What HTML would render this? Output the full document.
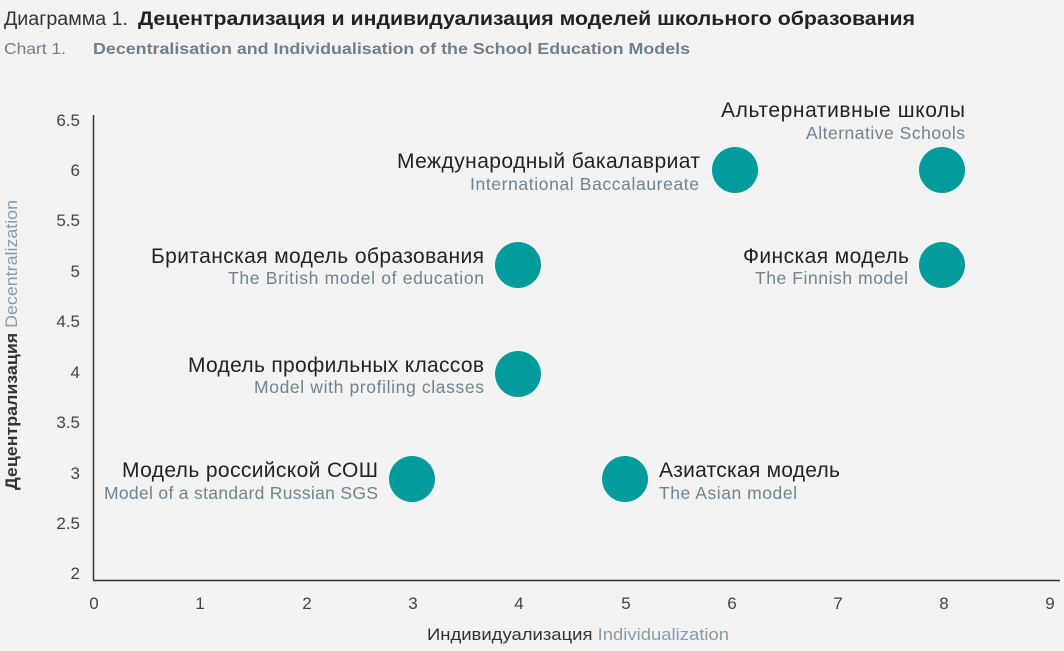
<!DOCTYPE html>
<html><head><meta charset="utf-8"><style>
body{margin:0;background:#f3f3f3;width:1064px;height:646px;overflow:hidden;font-family:"Liberation Sans","DejaVu Sans",sans-serif}
</style></head><body>
<svg width="1064" height="646" xmlns="http://www.w3.org/2000/svg" font-family="Liberation Sans, DejaVu Sans, sans-serif">
<rect width="1064" height="646" fill="#f3f3f3"/>
<text x="4" y="25" font-size="19" fill="#333" textLength="124" lengthAdjust="spacingAndGlyphs">Диаграмма 1.</text>
<text x="138" y="25" font-size="19" font-weight="bold" fill="#222" textLength="777" lengthAdjust="spacingAndGlyphs">Децентрализация и индивидуализация моделей школьного образования</text>
<text x="4" y="54" font-size="16" fill="#6f7f8c" textLength="62" lengthAdjust="spacingAndGlyphs">Chart 1.</text>
<text x="93" y="54" font-size="16" font-weight="bold" fill="#6f7f8c" textLength="597" lengthAdjust="spacingAndGlyphs">Decentralisation and Individualisation of the School Education Models</text>
<line x1="93.5" y1="115" x2="93.5" y2="580" stroke="#333" stroke-width="1.5"/>
<line x1="93" y1="580.5" x2="1060" y2="580.5" stroke="#333" stroke-width="1.5"/>
<g font-size="17" fill="#444" text-anchor="end">
<text x="80" y="126">6.5</text><text x="80" y="176">6</text><text x="80" y="226">5.5</text><text x="80" y="277">5</text><text x="80" y="327">4.5</text><text x="80" y="378">4</text><text x="80" y="428">3.5</text><text x="80" y="479">3</text><text x="80" y="529">2.5</text><text x="80" y="579">2</text>
</g>
<g font-size="17" fill="#444" text-anchor="middle">
<text x="94" y="609">0</text><text x="200" y="609">1</text><text x="307" y="609">2</text><text x="413" y="609">3</text><text x="519" y="609">4</text><text x="626" y="609">5</text><text x="732" y="609">6</text><text x="838" y="609">7</text><text x="944" y="609">8</text><text x="1050" y="609">9</text>
</g>
<text x="427" y="640" font-size="17" fill="#333" textLength="302" lengthAdjust="spacingAndGlyphs">Индивидуализация <tspan fill="#8a9aa6">Individualization</tspan></text>
<text transform="translate(17,490) rotate(-90)" font-size="17" fill="#333" font-weight="bold" textLength="290" lengthAdjust="spacingAndGlyphs">Децентрализация <tspan fill="#8a9aa6" font-weight="normal">Decentralization</tspan></text>
<g fill="#009b9a">
<circle cx="412" cy="479" r="23"/><circle cx="625" cy="479" r="23"/><circle cx="518" cy="374" r="23"/><circle cx="518" cy="265" r="23"/><circle cx="735" cy="170" r="23"/><circle cx="942" cy="170" r="23"/><circle cx="942" cy="265" r="23"/>
</g>
<g font-size="21" fill="#222" lengthAdjust="spacingAndGlyphs">
<text x="721" y="117" textLength="244">Альтернативные школы</text>
<text x="397" y="168" textLength="303">Международный бакалавриат</text>
<text x="151" y="263" textLength="333">Британская модель образования</text>
<text x="743" y="263" textLength="166">Финская модель</text>
<text x="188" y="372" textLength="296">Модель профильных классов</text>
<text x="122" y="477" textLength="256">Модель российской СОШ</text>
<text x="659" y="477" textLength="181">Азиатская модель</text>
</g>
<g font-size="17.5" fill="#6f8390" lengthAdjust="spacingAndGlyphs">
<text x="806" y="139" textLength="159">Alternative Schools</text>
<text x="470" y="190" textLength="229">International Baccalaureate</text>
<text x="228" y="284" textLength="256">The British model of education</text>
<text x="755" y="284" textLength="153">The Finnish model</text>
<text x="254" y="393" textLength="230">Model with profiling classes</text>
<text x="104" y="499" textLength="274">Model of a standard Russian SGS</text>
<text x="659" y="499" textLength="138">The Asian model</text>
</g>
</svg>
</body></html>
